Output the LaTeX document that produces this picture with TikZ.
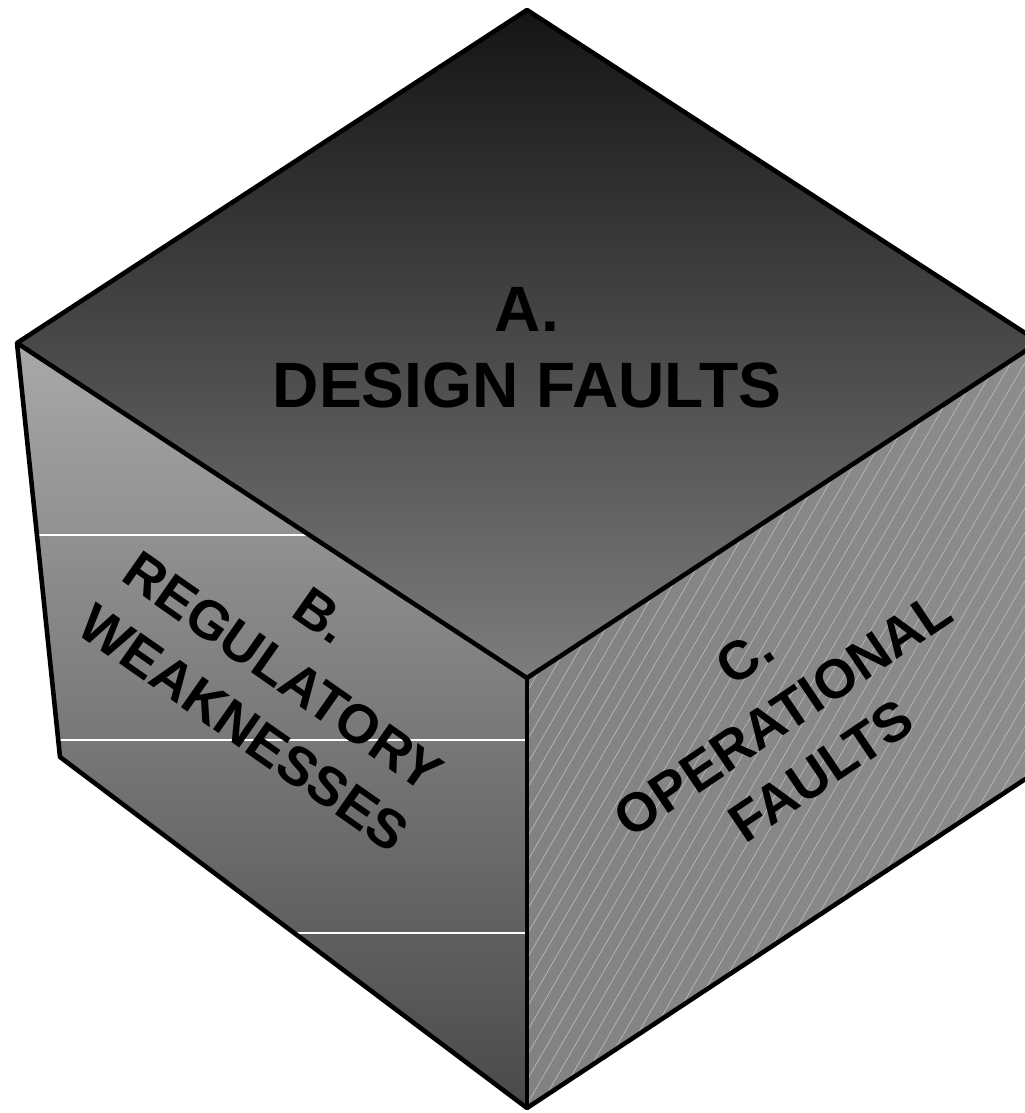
\documentclass[tikz,border=0pt]{standalone}
\usepackage{fontspec}
\setmainfont{Liberation Sans}
\usepackage{tikz}
\usetikzlibrary{positioning, calc}

\definecolor{topdark}{gray}{0.08}
\definecolor{topmid}{gray}{0.35}
\definecolor{toplight}{gray}{0.49}
\definecolor{leftlight}{gray}{0.66}
\definecolor{leftdark}{gray}{0.29}
\definecolor{rightface}{gray}{0.51}
\definecolor{rightlight}{gray}{0.55}
\definecolor{hatchline}{gray}{0.72}

\begin{document}
\begin{tikzpicture}[x=0.02cm, y=-0.02cm]
        % Style definitions
        \tikzstyle{edge} = [draw=black, line width=2.6pt, line join=round]
        \tikzstyle{hatch} = [hatchline, line width=0.4pt]
        \tikzstyle{band} = [white, line width=0.9pt]
        \tikzstyle{facelabel} = [font=\bfseries\fontsize{31}{39}\selectfont, align=center, inner sep=0pt]
        \tikzstyle{toplabel} = [font=\bfseries\fontsize{36.5}{43}\selectfont, align=center, inner sep=0pt]

        \useasboundingbox (0,0) rectangle (1025,1113);

        % Cube corners
        \coordinate (top) at (527,10);
        \coordinate (left) at (17,343);
        \coordinate (right) at (1039,342);
        \coordinate (front) at (527,678);
        \coordinate (lbot) at (60,757);
        \coordinate (rbot) at (1039,770);
        \coordinate (bot) at (527,1108);

        % Faces
        \shade [top color=topdark, middle color=topmid, bottom color=toplight] (top) -- (right) -- (front) -- (left) -- cycle;
        \shade [top color=leftlight, bottom color=leftdark] (left) -- (front) -- (bot) -- (lbot) -- cycle;
        \shade [left color=rightface, right color=rightlight] (front) -- (right) -- (rbot) -- (bot) -- cycle;

        % Hatching on the right face
        \begin{scope}
            \clip (front) -- (right) -- (rbot) -- (bot) -- cycle;
            \foreach \x in {70,84,...,1050}
                \draw [hatch] (\x,1120) -- ++(450,-780);
        \end{scope}

        % Bands on the left face
        \begin{scope}
            \clip (left) -- (front) -- (bot) -- (lbot) -- cycle;
            \foreach \y in {535,740,933}
                \draw [band] (0,\y) -- (527,\y);
        \end{scope}

        % Outline
        \draw [edge] (top) -- (right) -- (rbot) -- (bot) -- (lbot) -- (left) -- cycle;
        \draw [edge] (left) -- (front) -- (right);
        \draw [edge] (front) -- (bot);

        % Labels
        \node [toplabel] (design) at (527,348) {A.\\DESIGN FAULTS};
        \node [facelabel, rotate=-35] (regulatory) at (283,672) {B.\\REGULATORY\\WEAKNESSES};
        \node [facelabel, rotate=34] (operational) at (783,714) {C.\\OPERATIONAL\\FAULTS};
    \end{tikzpicture}
\end{document}
